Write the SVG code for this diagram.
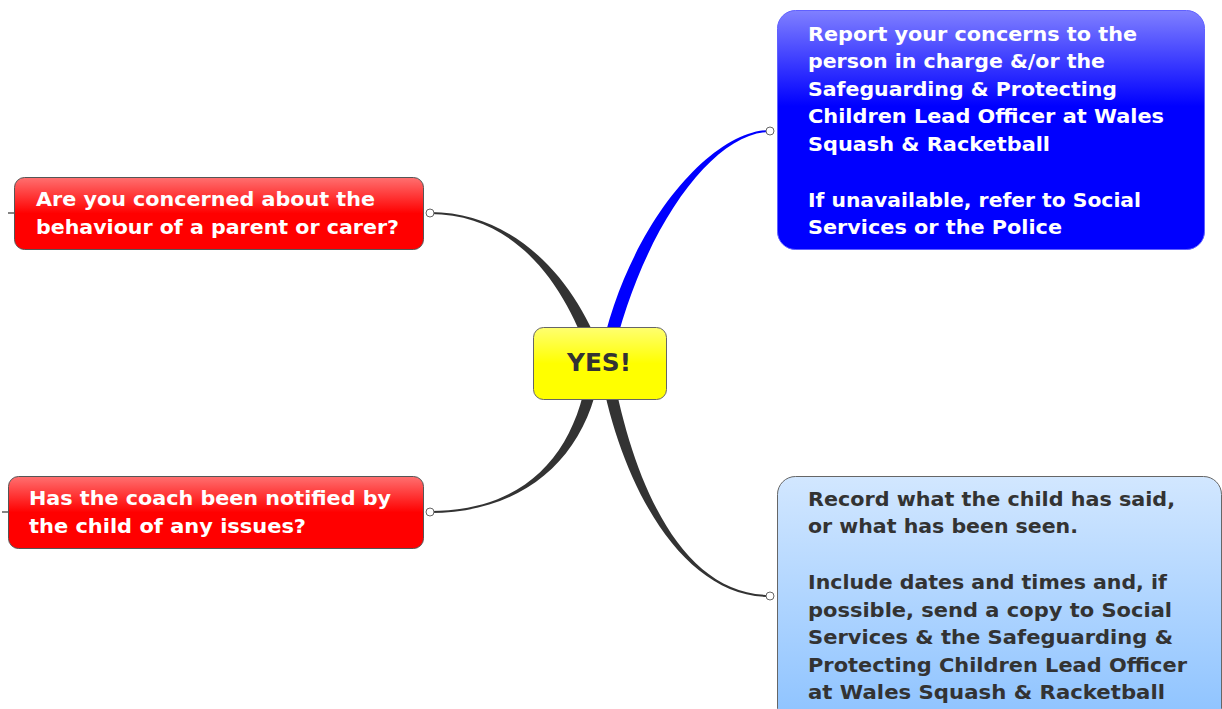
<svg xmlns="http://www.w3.org/2000/svg" width="1222" height="709" viewBox="0 0 1222 709">
<defs>
<linearGradient id="gRed" x1="0" y1="0" x2="0" y2="1">
<stop offset="0" stop-color="#ff7070"/><stop offset="0.5" stop-color="#ff0000"/><stop offset="1" stop-color="#ff0000"/>
</linearGradient>
<linearGradient id="gBlue" x1="0" y1="0" x2="0" y2="1">
<stop offset="0" stop-color="#8080ff"/><stop offset="0.4" stop-color="#0000ff"/><stop offset="1" stop-color="#0000ff"/>
</linearGradient>
<linearGradient id="gLight" x1="0" y1="0" x2="0" y2="1">
<stop offset="0" stop-color="#d2e7ff"/><stop offset="1" stop-color="#8cc2ff"/>
</linearGradient>
<linearGradient id="gYel" x1="0" y1="0" x2="0" y2="1">
<stop offset="0" stop-color="#ffff70"/><stop offset="0.5" stop-color="#ffff00"/><stop offset="1" stop-color="#ffff00"/>
</linearGradient>
<style>
.t{font-family:"DejaVu Sans","Verdana",sans-serif;font-weight:bold;font-size:19px}
.w{fill:#ffffff}
.d{fill:#333333}
.dot{fill:#ffffff;stroke:#666666;stroke-width:1}
.stub{stroke:#333333;stroke-width:1.2}
</style>
</defs>
<g id="connectors">
<path d="M604,361 C581,288 520,212 430,212 L430,214 C520,214 569,292 592,365 Z" fill="#333333"/>
<path d="M599,362 C624,230 710,130 770,130 L770,132 C712,132 640,232 611,364 Z" fill="#0000ff"/>
<path d="M601,364 C591,451 530,513 430,513 L430,511 C530,511 579,449 589,362 Z" fill="#333333"/>
<path d="M611,362 C631,479 680,595 770,595 L770,597 C680,597 619,481 599,364 Z" fill="#333333"/>
<line class="stub" x1="8" y1="213" x2="15" y2="213"/>
<line class="stub" x1="2" y1="512" x2="8" y2="512"/>
<circle class="dot" cx="430" cy="213" r="4"/>
<circle class="dot" cx="430" cy="512" r="4"/>
<circle class="dot" cx="770" cy="131" r="4"/>
<circle class="dot" cx="770" cy="596" r="4"/>
</g>
<g id="node-concerned">
<rect x="14.5" y="177.5" width="409" height="72" rx="10" fill="url(#gRed)" stroke="#555555"/>
<text class="t w" x="36" y="206" textLength="339" lengthAdjust="spacingAndGlyphs">Are you concerned about the</text>
<text class="t w" x="36" y="234" textLength="363" lengthAdjust="spacingAndGlyphs">behaviour of a parent or carer?</text>
</g>
<g id="node-notified">
<rect x="8.5" y="476.5" width="415" height="72" rx="10" fill="url(#gRed)" stroke="#555555"/>
<text class="t w" x="29" y="505" textLength="362" lengthAdjust="spacingAndGlyphs">Has the coach been notified by</text>
<text class="t w" x="29" y="533" textLength="277" lengthAdjust="spacingAndGlyphs">the child of any issues?</text>
</g>
<g id="node-yes">
<rect x="533.5" y="327.5" width="133" height="72" rx="10" fill="url(#gYel)" stroke="#666666"/>
<text class="d" x="599" y="371" text-anchor="middle" style="font-family:'DejaVu Sans',Verdana,sans-serif;font-weight:bold;font-size:24px" textLength="64" lengthAdjust="spacingAndGlyphs">YES!</text>
</g>
<g id="node-report">
<rect x="777.5" y="10.5" width="427" height="239" rx="18" fill="url(#gBlue)" stroke="#6060ff"/>
<text class="t w" x="808" y="41" textLength="329" lengthAdjust="spacingAndGlyphs">Report your concerns to the</text>
<text class="t w" x="808" y="68" textLength="297" lengthAdjust="spacingAndGlyphs">person in charge &amp;/or the</text>
<text class="t w" x="808" y="96" textLength="309" lengthAdjust="spacingAndGlyphs">Safeguarding &amp; Protecting</text>
<text class="t w" x="808" y="123" textLength="356" lengthAdjust="spacingAndGlyphs">Children Lead Officer at Wales</text>
<text class="t w" x="808" y="151" textLength="242" lengthAdjust="spacingAndGlyphs">Squash &amp; Racketball</text>
<text class="t w" x="808" y="207" textLength="333" lengthAdjust="spacingAndGlyphs">If unavailable, refer to Social</text>
<text class="t w" x="808" y="234" textLength="254" lengthAdjust="spacingAndGlyphs">Services or the Police</text>
</g>
<g id="node-record">
<rect x="777.5" y="476.5" width="444" height="250" rx="18" fill="url(#gLight)" stroke="#666666"/>
<text class="t d" x="808" y="506" textLength="367" lengthAdjust="spacingAndGlyphs">Record what the child has said,</text>
<text class="t d" x="808" y="533" textLength="270" lengthAdjust="spacingAndGlyphs">or what has been seen.</text>
<text class="t d" x="808" y="589" textLength="359" lengthAdjust="spacingAndGlyphs">Include dates and times and, if</text>
<text class="t d" x="808" y="617" textLength="364" lengthAdjust="spacingAndGlyphs">possible, send a copy to Social</text>
<text class="t d" x="808" y="644" textLength="365" lengthAdjust="spacingAndGlyphs">Services &amp; the Safeguarding &amp;</text>
<text class="t d" x="808" y="672" textLength="379" lengthAdjust="spacingAndGlyphs">Protecting Children Lead Officer</text>
<text class="t d" x="808" y="699" textLength="357" lengthAdjust="spacingAndGlyphs">at Wales Squash &amp; Racketball</text>
</g>
</svg>
